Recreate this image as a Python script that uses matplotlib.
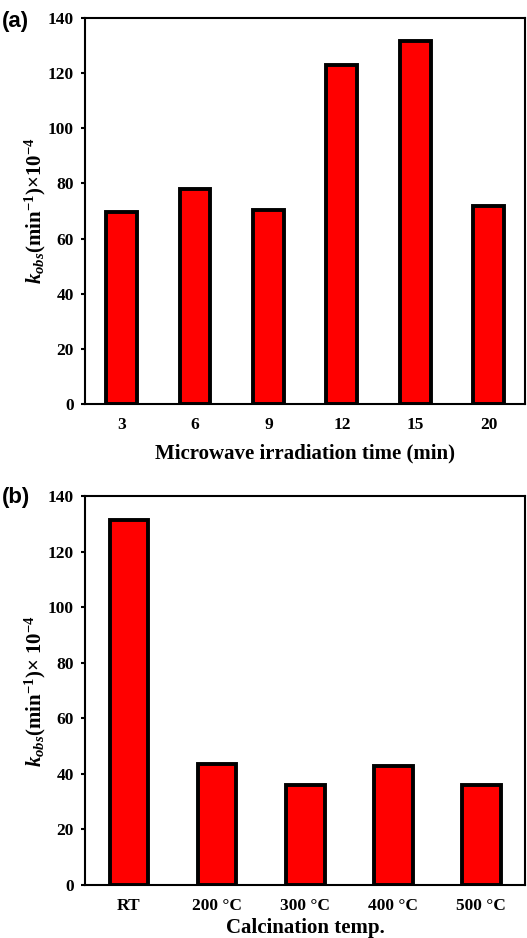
import matplotlib.pyplot as plt

plt.rcParams['font.family'] = 'Liberation Serif'
plt.rcParams['font.weight'] = 'bold'
plt.rcParams['axes.labelweight'] = 'bold'
plt.rcParams['mathtext.fontset'] = 'custom'
plt.rcParams['mathtext.rm'] = 'Liberation Serif:bold'
plt.rcParams['mathtext.it'] = 'Liberation Serif:italic:bold'
plt.rcParams['mathtext.bf'] = 'Liberation Serif:bold'

# rate constants vs microwave time
times = ['3', '6', '9', '12', '15', '20']
k_time = [69.5, 78, 70.5, 123, 131.5, 72]

# rate constants vs calcination temperature
temps = ['RT', '200 °C', '300 °C', '400 °C', '500 °C']
k_temp = [131.5, 43.5, 36, 43, 36]

fig = plt.figure(figsize=(5.27, 9.38), dpi=100)
ax1 = fig.add_axes([0.161, 0.569, 0.836, 0.412])
ax2 = fig.add_axes([0.161, 0.0565, 0.836, 0.4145])


def style(ax, cats, vals, width, xlabel, ylabel, xpad):
    x = range(len(cats))
    ax.bar(x, vals, width=width, color='#ff0000', edgecolor='black', linewidth=2.8)
    ax.set_xlim(-0.5, len(cats) - 0.5)
    ax.set_ylim(0, 140)
    ax.set_yticks(range(0, 141, 20))
    ax.set_xticks(list(x))
    ax.set_xticklabels(cats)
    ax.tick_params(axis='x', length=0, pad=9, labelsize=12.5)
    ax.tick_params(axis='y', direction='out', length=3, width=1.5, labelsize=12.5, pad=5)
    for s in ax.spines.values():
        s.set_linewidth(1.5)
    ax.set_xlabel(xlabel, fontsize=15, labelpad=xpad)
    ax.set_ylabel(ylabel, fontsize=15, labelpad=0)


style(ax1, times, k_time, 0.42, 'Microwave irradiation time (min)',
      r'$\mathit{k_{obs}}$(min$^{-1}$)×10$^{-4}$', 8)
style(ax2, temps, k_temp, 0.44, 'Calcination temp.',
      r'$\mathit{k_{obs}}$(min$^{-1}$)× 10$^{-4}$', 3)

fig.text(0.004, 0.977, '(a)', fontsize=16, fontweight='bold', family='Liberation Sans', va='center')
fig.text(0.004, 0.470, '(b)', fontsize=16, fontweight='bold', family='Liberation Sans', va='center')

fig.savefig('out.png', dpi=100)
